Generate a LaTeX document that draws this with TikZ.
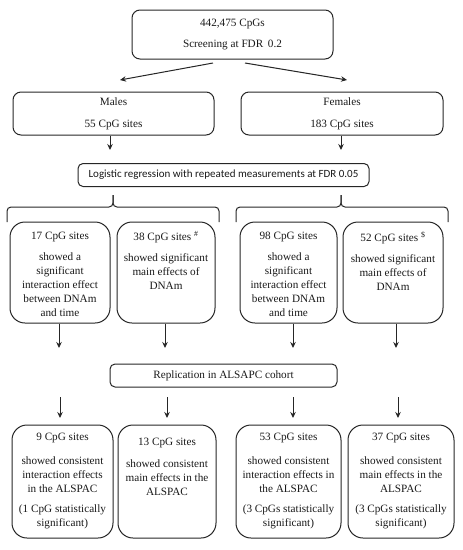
\documentclass[tikz,border=0pt]{standalone}
\usepackage{fontspec}
\setmainfont{Liberation Serif}
\newfontfamily\calibri{Carlito}
\usepackage{tikz}
\usetikzlibrary{positioning,arrows.meta}
\tikzstyle{block} = [rectangle, draw=black!85, line width=1pt, align=center,
    inner sep=0pt, text=black!90, font=\fontsize{11.2}{14}\selectfont]
\tikzstyle{wide} = [block, rounded corners=8pt, minimum width=201pt, minimum height=43pt]
\tikzstyle{bar} = [block, rounded corners=5pt, minimum height=23pt]
\tikzstyle{tall} = [block, rounded corners=15pt, minimum height=101pt]
\tikzstyle{low} = [block, rounded corners=15pt, minimum height=113pt]
\tikzstyle{txt} = [align=center, inner sep=0pt, text=black!90, font=\fontsize{11.2}{14}\selectfont]
\tikzstyle{line} = [draw=black!85, line width=1pt]

\begin{document}
\begin{tikzpicture}[x=1pt, y=-1pt, >={Stealth[length=6pt,width=5.5pt]}]
	\useasboundingbox (0,0) rectangle (463,550);

	% Place nodes
	\node [wide, minimum height=49pt] at (232.5,34.5) (screen) {442,475 CpGs\\[7pt]Screening at FDR\, 0.2};
	\node [wide] at (113.5,113.5) (males) {Males\\[8pt]55 CpG sites};
	\node [wide, minimum width=202pt] at (342,113.5) (females) {Females\\[8pt]183 CpG sites};

	\node [bar, minimum width=291pt, font=\calibri\fontsize{11}{13}\selectfont] at (223.5,175) (logreg)
		{Logistic regression with repeated measurements at FDR 0.05};

	\node [tall, minimum width=100pt] at (60,272.5) (b1) {};
	\node [tall, minimum width=98pt] at (166,272.5) (b2) {};
	\node [tall, minimum width=97pt] at (288.5,272.5) (b3) {};
	\node [tall, minimum width=100pt] at (393,272.5) (b4) {};

	\node [txt, below=10pt of b1.north] (b1t) {17 CpG sites\\[7pt]showed a\\significant\\interaction effect\\between DNAm\\and time};
	\node [txt, below=10pt of b2.north] (b2t) {38 CpG sites \textsuperscript{\#}\\[7pt]showed significant\\main effects of\\DNAm};
	\node [txt, below=10pt of b3.north] (b3t) {98 CpG sites\\[7pt]showed a\\significant\\interaction effect\\between DNAm\\and time};
	\node [txt, below=10pt of b4.north] (b4t) {52 CpG sites \textsuperscript{\$}\\[7pt]showed significant\\main effects of\\DNAm};

	\node [bar, minimum width=227pt] at (223.5,375.5) (replic) {Replication in ALSAPC cohort};

	\node [low, minimum width=101pt] at (62.5,481.5) (c1) {};
	\node [low, minimum width=98pt] at (167,481.5) (c2) {};
	\node [low, minimum width=105pt] at (288.5,481.5) (c3) {};
	\node [low, minimum width=106pt] at (401,481.5) (c4) {};

	\node [txt, below=8pt of c1.north] (c1t) {9 CpG sites\\[10pt]showed consistent\\interaction effects\\in the ALSPAC\\[6pt](1 CpG statistically\\significant)};
	\node [txt, below=13pt of c2.north] (c2t) {13 CpG sites\\[8pt]showed consistent\\main effects in the\\ALSPAC};
	\node [txt, below=8pt of c3.north] (c3t) {53 CpG sites\\[10pt]showed consistent\\interaction effects in\\the ALSPAC\\[6pt](3 CpGs statistically\\significant)};
	\node [txt, below=8pt of c4.north] (c4t) {37 CpG sites\\[10pt]showed consistent\\main effects in the\\ALSPAC\\[6pt](3 CpGs statistically\\significant)};

	% Arrow ends
	\coordinate (s1) at (213,63);
	\coordinate (s2) at (245,63);
	\coordinate (toM) at (120,80);
	\coordinate (toF) at (347,80);
	\coordinate (m1) at (110,150);
	\coordinate (f1) at (341,150);
	\coordinate (a1) at (59,348);
	\coordinate (a2) at (165,348);
	\coordinate (a3) at (293,348);
	\coordinate (a4) at (396,348);
	\coordinate (r1) at (60,397);
	\coordinate (r2) at (167,397);
	\coordinate (r3) at (293,397);
	\coordinate (r4) at (398,397);
	\coordinate (e1) at (60,418);
	\coordinate (e2) at (167,418);
	\coordinate (e3) at (293,418);
	\coordinate (e4) at (398,418);

	\draw[->, line](s1)--(toM);
	\draw[->, line](s2)--(toF);

	\draw[->, line](males.south -| m1)--(m1);
	\draw[->, line](females.south -| f1)--(f1);

	% Braces
	\draw[line, rounded corners=4pt] (7,222) -- (7,207) -- (113,207) -- (113,195);
	\draw[line, rounded corners=4pt] (219,222) -- (219,207) -- (113,207) -- (113,195);
	\draw[line, rounded corners=4pt] (236,222) -- (236,207) -- (341,207) -- (341,195);
	\draw[line, rounded corners=4pt] (448,222) -- (448,207) -- (341,207) -- (341,195);

	\draw[->, line](b1.south -| a1)--(a1);
	\draw[->, line](b2.south -| a2)--(a2);
	\draw[->, line](b3.south -| a3)--(a3);
	\draw[->, line](b4.south -| a4)--(a4);

	\draw[->, line](r1)--(e1);
	\draw[->, line](r2)--(e2);
	\draw[->, line](r3)--(e3);
	\draw[->, line](r4)--(e4);
\end{tikzpicture}
\end{document}
